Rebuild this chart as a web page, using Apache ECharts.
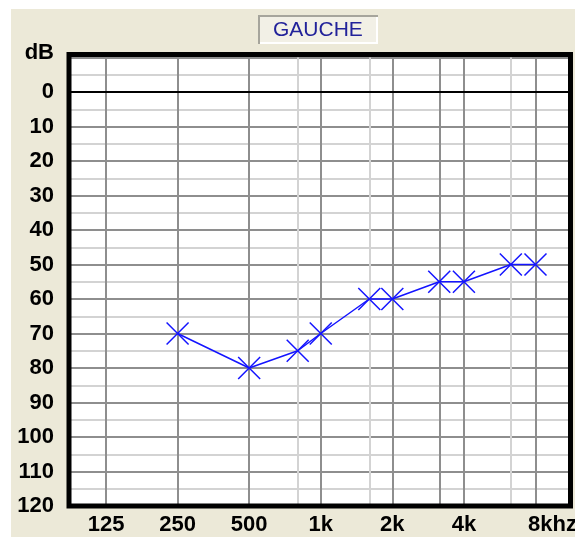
<!DOCTYPE html>
<html>
<head>
<meta charset="utf-8">
<script src="https://cdn.jsdelivr.net/npm/echarts@6/dist/echarts.min.js"></script>
<style>
  html, body { margin: 0; padding: 0; background: #ffffff; }
  #bg { position: absolute; left: 11px; top: 9px; width: 564px; height: 528px; background: #ECE9D8; }
  #chart { position: absolute; left: 0; top: 0; width: 575px; height: 537px; }
</style>
</head>
<body>
<div id="bg"></div>
<div id="chart"></div>
<script>
// ---- data ----
const titleText = 'GAUCHE';
const testFreqs = [250, 500, 800, 1000, 1600, 2000, 3150, 4000, 6300, 8000];
const thresholdsDb = [70, 80, 75, 70, 60, 60, 55, 55, 50, 50];
const labelFreqs = [125, 250, 500, 1000, 2000, 4000, 8000];
const freqLabels = ['125', '250', '500', '1k', '2k', '4k', '8khz'];
const majorGridFreqs = [125, 250, 500, 1000, 2000, 3150, 4000, 8000];
const minorGridFreqs = [800, 1600, 6300];
const dbMin = -10;
const dbMax = 120;
const dbStep = 10;

// ---- helpers ----
const refFreq = 125;
const toOct = f => Math.log2(f / refFreq);

const chart = echarts.init(document.getElementById('chart'), null, { renderer: 'canvas' });

const labelFont = { fontFamily: 'Liberation Sans', fontWeight: 'bold', fontSize: 22, color: '#000' };

const option = {
  animation: false,
  backgroundColor: 'transparent',
  title: {
    text: titleText,
    left: 273,
    top: 20,
    padding: 0,
    textStyle: { fontFamily: 'Liberation Sans', fontWeight: 'normal', fontSize: 21, color: '#22229a' }
  },
  grid: {
    left: 69, right: 4.5, top: 57.5, bottom: 31,
    outerBoundsMode: 'none',
    containLabel: false,
    show: true, backgroundColor: '#ffffff', borderWidth: 0
  },
  xAxis: {
    type: 'value',
    min: -0.517,
    max: 6.489,
    axisLine: { show: false },
    axisTick: { show: false },
    splitLine: { show: false },
    axisLabel: {
      customValues: labelFreqs.map(toOct),
      margin: 8,
      ...labelFont,
      formatter: function (v) {
        const i = labelFreqs.findIndex(f => Math.abs(toOct(f) - v) < 1e-6);
        if (i < 0) return '';
        if (i === labelFreqs.length - 1) return '{s|' + freqLabels[i] + '}';
        return freqLabels[i];
      },
      rich: {
        s: { ...labelFont, padding: [0, 0, 0, 34] }
      }
    }
  },
  yAxis: {
    type: 'value',
    inverse: true,
    min: dbMin,
    max: dbMax,
    interval: dbStep,
    axisLine: { show: false },
    axisTick: { show: false },
    minorTick: { show: false, splitNumber: 2 },
    minorSplitLine: { show: true, lineStyle: { color: '#d3d3d3', width: 2 } },
    splitLine: { show: true, lineStyle: { color: '#8e8e8e', width: 2 } },
    axisLabel: {
      margin: 15,
      ...labelFont,
      formatter: v => (v === dbMin ? '{d|dB}' : String(v)),
      rich: {
        d: { ...labelFont, padding: [0, 0, 10, 0] }
      }
    }
  },
  series: [
    {
      type: 'line',
      data: [],
      z: 1,
      silent: true,
      markLine: {
        silent: true,
        symbol: ['none', 'none'],
        label: { show: false },
        animation: false,
        data: [
          ...minorGridFreqs.map(f => ({ xAxis: toOct(f), lineStyle: { color: '#d3d3d3', width: 2, type: 'solid' } })),
          ...majorGridFreqs.map(f => ({ xAxis: toOct(f), lineStyle: { color: '#8e8e8e', width: 2, type: 'solid' } })),
          { yAxis: 0, lineStyle: { color: '#000000', width: 2, type: 'solid' } }
        ]
      }
    },
    {
      type: 'line',
      z: 5,
      data: testFreqs.map((f, i) => [toOct(f), thresholdsDb[i]]),
      symbol: 'path://M0 0L20 20M20 0L0 20',
      symbolSize: 22,
      lineStyle: { color: '#1414ff', width: 1.5 },
      itemStyle: { color: 'rgba(0,0,0,0)', borderColor: '#1414ff', borderWidth: 1.5 }
    }
  ],
  graphic: [
    { type: 'rect', z: 0, shape: { x: 258, y: 15, width: 120, height: 29 }, style: { fill: '#a6a59c' } },
    { type: 'rect', z: 0, shape: { x: 260, y: 17, width: 118, height: 27 }, style: { fill: '#ffffff' } },
    { type: 'rect', z: 0, shape: { x: 260, y: 17, width: 116, height: 25 }, style: { fill: '#F2F0E6' } },
    { type: 'rect', z: 100, shape: { x: 69, y: 54.5, width: 501.5, height: 451.5 }, style: { fill: 'none', stroke: '#000', lineWidth: 5 } }
  ]
};
chart.setOption(option);
</script>
</body>
</html>
